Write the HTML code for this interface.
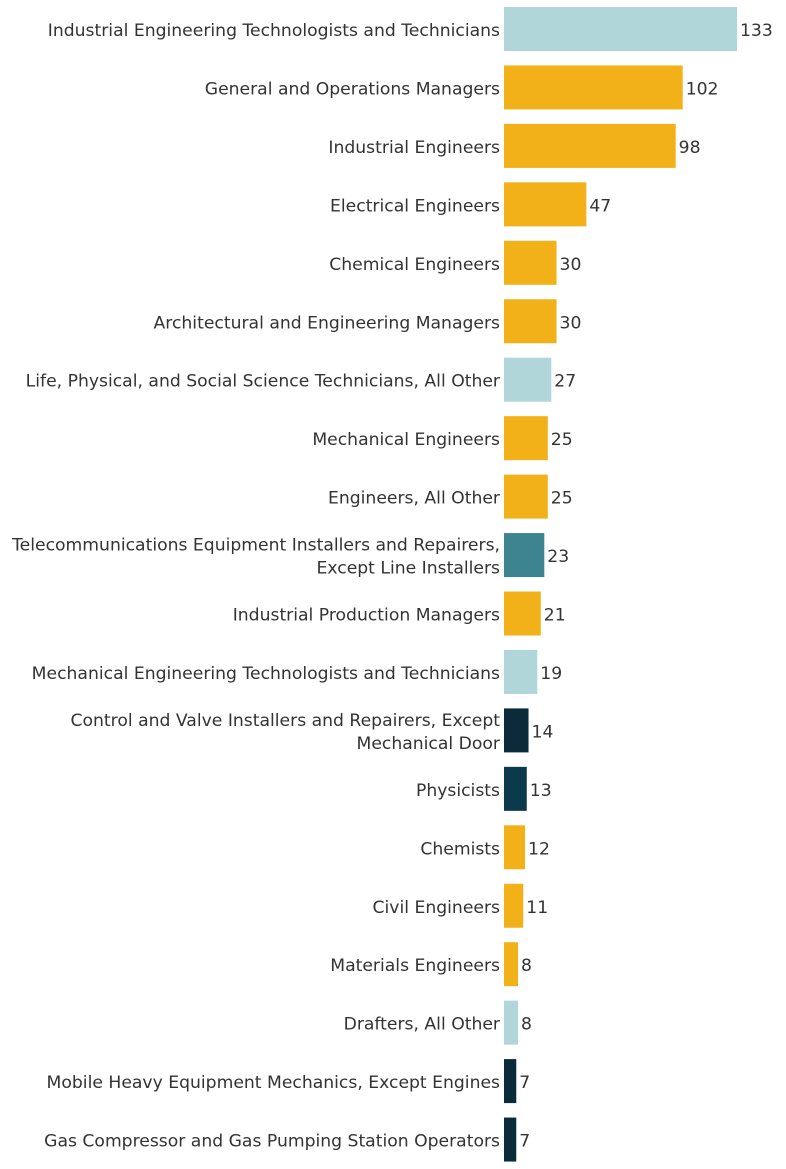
<!DOCTYPE html>
<html><head><meta charset="utf-8"><style>
html,body{margin:0;padding:0;background:#fff;}
svg{display:block;font-family:"DejaVu Sans","Liberation Sans",sans-serif;}
</style></head><body>
<svg id="chart" width="786" height="1169"></svg>
<script>
const categories=[
["Industrial Engineering Technologists and Technicians"],
["General and Operations Managers"],
["Industrial Engineers"],
["Electrical Engineers"],
["Chemical Engineers"],
["Architectural and Engineering Managers"],
["Life, Physical, and Social Science Technicians, All Other"],
["Mechanical Engineers"],
["Engineers, All Other"],
["Telecommunications Equipment Installers and Repairers,","Except Line Installers"],
["Industrial Production Managers"],
["Mechanical Engineering Technologists and Technicians"],
["Control and Valve Installers and Repairers, Except","Mechanical Door"],
["Physicists"],
["Chemists"],
["Civil Engineers"],
["Materials Engineers"],
["Drafters, All Other"],
["Mobile Heavy Equipment Mechanics, Except Engines"],
["Gas Compressor and Gas Pumping Station Operators"]
];
const values=[133,102,98,47,30,30,27,25,25,23,21,19,14,13,12,11,8,8,7,7];
const groups=["light","gold","gold","gold","gold","gold","light","gold","gold","teal","gold","light","dark","navy","gold","gold","gold","light","dark","dark"];
const palette={light:"#b0d6da",gold:"#f2b118",teal:"#3d8490",dark:"#0b2a3a",navy:"#0b3a4c"};
const svg=document.getElementById('chart');
const NS="http://www.w3.org/2000/svg";
const x0=504, scale=233/133;
const x=v=>x0+v*scale;
const rowH=58.45, barH=44;
const yc=i=>29+i*rowH;
values.forEach((v,i)=>{
  const r=document.createElementNS(NS,'rect');
  r.setAttribute('x',x0);r.setAttribute('y',yc(i)-barH/2);
  r.setAttribute('width',x(v)-x0);r.setAttribute('height',barH);
  r.setAttribute('fill',palette[groups[i]]);
  
  
  svg.appendChild(r);
  const t=document.createElementNS(NS,'text');
  t.setAttribute('x',x(v)+3);t.setAttribute('y',yc(i)+7);
  t.setAttribute('font-size','17.2');t.setAttribute('fill','#333');
  t.textContent=v;
  
  
  svg.appendChild(t);
  const lines=categories[i];
  lines.forEach((ln,k)=>{
    const c=document.createElementNS(NS,'text');
    c.setAttribute('x',500);
    c.setAttribute('y',yc(i)+7+(k-(lines.length-1)/2)*23);
    c.setAttribute('text-anchor','end');
    c.setAttribute('font-size','17.2');c.setAttribute('fill','#333');
    c.textContent=ln;
    
    
    svg.appendChild(c);
  });
});
</script>
</body></html>
